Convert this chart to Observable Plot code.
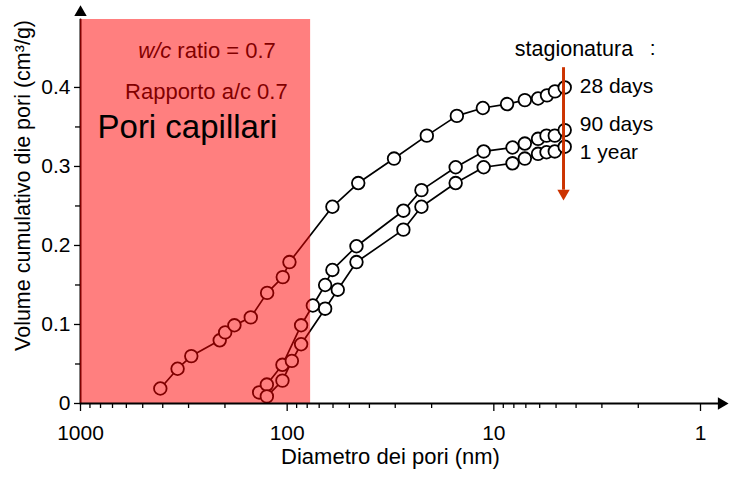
<!DOCTYPE html>
<html>
<head>
<meta charset="utf-8">
<script src="https://cdn.jsdelivr.net/npm/d3@7"></script>
<script src="https://cdn.jsdelivr.net/npm/@observablehq/plot@0.6"></script>
<style>
  html, body { margin: 0; padding: 0; background: #fff; }
</style>
</head>
<body>
<div id="chart"></div>
<script>
// Pore diameter (nm) and cumulative pore volume (cm3/g), w/c = 0.7
const x28 = [411, 339, 291, 212, 199.5, 180, 150, 125, 105, 97.5, 60.4, 45.3, 30.4, 21.1, 15.1, 11.3, 8.63, 7.08, 6.11, 5.53, 5.06, 4.54];
const y28 = [0.019, 0.044, 0.06, 0.08, 0.09, 0.099, 0.109, 0.14, 0.16, 0.179, 0.249, 0.279, 0.31, 0.339, 0.364, 0.374, 0.379, 0.384, 0.386, 0.39, 0.395, 0.40];
const x90 = [136.6, 125.4, 105.4, 85.6, 75.1, 65.5, 60.4, 46.2, 27.4, 22.4, 15.3, 11.2, 8.12, 7.08, 6.11, 5.56, 5.07, 4.54];
const y90 = [0.014, 0.024, 0.049, 0.099, 0.124, 0.150, 0.169, 0.199, 0.244, 0.270, 0.299, 0.319, 0.324, 0.329, 0.335, 0.339, 0.339, 0.346];
const x1y = [125.4, 105.4, 94.9, 85.6, 65.5, 56.9, 46.2, 27.4, 22.4, 15.3, 11.2, 8.12, 7.08, 6.11, 5.56, 5.07, 4.54];
const y1y = [0.009, 0.029, 0.054, 0.075, 0.120, 0.144, 0.179, 0.220, 0.249, 0.279, 0.299, 0.304, 0.310, 0.316, 0.318, 0.319, 0.325];

const seriesNames = ["28 days", "90 days", "1 year"];
const seriesLabelY = [0.401, 0.353, 0.318];

// axis ticks
const xMajor = [1000, 100, 10, 1];
const xMinor = [900, 800, 700, 600, 500, 400, 300, 200, 90, 80, 70, 60, 50, 40, 30, 20, 9, 8, 7, 6, 5, 4, 3, 2];
const yMajor = [0, 0.1, 0.2, 0.3, 0.4];
const yMinor = [0.05, 0.15, 0.25, 0.35];

// capillary pore zone (nm) and annotation anchors
const capZone = [{x1: 1000, x2: 77, y1: 0, y2: 0.486}];
const xDomain = [1000, 1];
const yDomain = [0, 0.486];
const xAxisExtent = [1000, 0.8];
const yAxisExtent = [0, 0.486];
const xArrowTip = 0.792;
const yArrowTip = 0.495;
const curingArrow = {x: 4.6, yTop: 0.425, yBottom: 0.27, yHead: 0.266};
const curingTitle = {x: 7.92, y: 0.449};

const build = (xs, ys, name) => xs.map((x, i) => ({x, y: ys[i], s: name}));
const data = [
  ...build(x28, y28, seriesNames[0]),
  ...build(x90, y90, seriesNames[1]),
  ...build(x1y, y1y, seriesNames[2])
];
const lastX = x28[x28.length - 1];
const labels = seriesNames.map((s, i) => ({x: lastX, y: seriesLabelY[i], s}));

const font = "Liberation Sans, Arial, Helvetica, sans-serif";

const chart = Plot.plot({
  width: 729,
  height: 478,
  marginTop: 19,
  marginBottom: 75,
  marginLeft: 80,
  marginRight: 29,
  style: {fontFamily: font, fontSize: "21px", background: "#fff", color: "#000"},
  x: {type: "log", domain: xDomain, axis: null},
  y: {domain: yDomain, axis: null},
  marks: [
    // data lines & circles
    Plot.line(data, {x: "x", y: "y", z: "s", stroke: "#000", strokeWidth: 1.7}),
    Plot.dot(data, {x: "x", y: "y", r: 6.3, fill: "#fff", stroke: "#000", strokeWidth: 1.8}),
    // y axis line & arrow
    Plot.line(yAxisExtent.map(y => ({x: 1000, y})), {x: "x", y: "y", stroke: "#000", strokeWidth: 2}),
    Plot.dot([{x: 1000, y: yArrowTip}], {x: "x", y: "y", symbol: "triangle", r: 4.6, fill: "#000", stroke: "none"}),
    // texts under overlay (become dark red)
    Plot.text(["w/c"], {x: 351.6, y: 0.446, text: d => d, textAnchor: "end", dx: -3, fontStyle: "italic", fill: "#000", fontSize: 22}),
    Plot.text(["ratio = 0.7"], {x: 351.6, y: 0.446, text: d => d, textAnchor: "start", dx: 3, fill: "#000", fontSize: 22}),
    Plot.text(["Rapporto a/c 0.7"], {x: 246, y: 0.394, text: d => d, fill: "#000", fontSize: 22}),
    // capillary zone overlay
    Plot.rect(capZone, {x1: "x1", x2: "x2", y1: "y1", y2: "y2", fill: "#ff0000", fillOpacity: 0.5}),
    Plot.text(["Pori capillari"], {x: 304, y: 0.349, text: d => d, fill: "#000", fontSize: 33}),
    // x axis line & arrow
    Plot.line(xAxisExtent.map(x => ({x, y: 0})), {x: "x", y: "y", stroke: "#000", strokeWidth: 2}),
    Plot.dot([{x: xArrowTip, y: 0}], {x: "x", y: "y", symbol: "triangle", rotate: 90, r: 4.6, fill: "#000", stroke: "none"}),
    // axes ticks
    Plot.axisX(xMajor, {tickSize: 8, tickPadding: 14, tickFormat: d => String(d), stroke: "#000", strokeWidth: 1.3, fontSize: 21}),
    Plot.axisX(xMinor, {tickSize: 5, tickFormat: () => "", stroke: "#000", strokeWidth: 1.3}),
    Plot.axisY(yMajor, {tickSize: 6, tickPadding: 4, tickFormat: d => String(d), stroke: "#000", strokeWidth: 1.3, fontSize: 21}),
    Plot.axisY(yMinor, {tickSize: 5, tickFormat: () => "", stroke: "#000", strokeWidth: 1.3}),
    // axis titles
    Plot.text(["Diametro dei pori (nm)"], {frameAnchor: "bottom", dy: 60, text: d => d, fontSize: 22}),
    Plot.text(["Volume cumulativo die pori (cm³/g)"], {frameAnchor: "left", textAnchor: "middle", dx: -57, dy: -26, rotate: -90, text: d => d, fontSize: 21.5}),
    // curing annotation
    Plot.text(["stagionatura"], {x: curingTitle.x, y: curingTitle.y, text: d => d, textAnchor: "start", fontSize: 21.5}),
    Plot.text([":"], {x: curingTitle.x, y: curingTitle.y, text: d => d, textAnchor: "start", dx: 135, fontSize: 21}),
    Plot.ruleX([curingArrow], {x: "x", y1: "yTop", y2: "yBottom", stroke: "#cc3300", strokeWidth: 3}),
    Plot.dot([curingArrow], {x: "x", y: "yHead", symbol: "triangle", rotate: 180, r: 4.6, fill: "#cc3300", stroke: "none"}),
    Plot.text(labels, {x: "x", y: "y", text: "s", textAnchor: "start", dx: 15, fontSize: 21})
  ]
});
document.getElementById("chart").appendChild(chart);
</script>
</body>
</html>
